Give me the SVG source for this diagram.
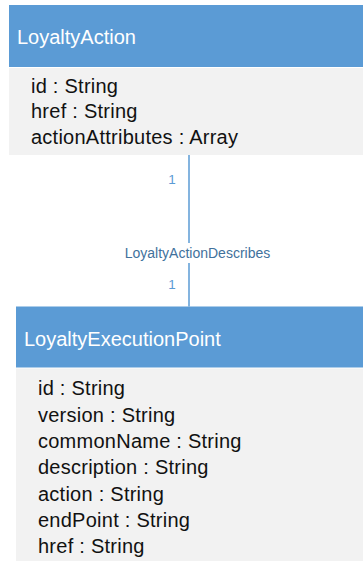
<svg xmlns="http://www.w3.org/2000/svg" width="363" height="561" viewBox="0 0 363 561">
  <style>
    .hdr { fill: #5B9BD5; }
    .body { fill: #F2F2F2; }
    .title { font-family: "Liberation Sans", Arial, sans-serif; font-size: 20px; fill: #FFFFFF; }
    .attr { font-family: "Liberation Sans", Arial, sans-serif; font-size: 20px; letter-spacing: 0.25px; fill: #111111; }
    .conn { stroke: #5B9BD5; stroke-width: 1.5; fill: none; }
    .mult { font-family: "Liberation Sans", Arial, sans-serif; font-size: 13.5px; fill: #5B9BD5; }
    .lbl { font-family: "Liberation Sans", Arial, sans-serif; font-size: 14px; fill: #41719C; }
  </style>
  <rect width="363" height="561" fill="#FFFFFF"/>
  <g id="LoyaltyAction">
    <rect class="hdr" x="9" y="5" width="354" height="62"/>
    <rect class="body" x="9" y="68" width="354" height="87"/>
    <text class="title" x="17" y="44">LoyaltyAction</text>
    <text class="attr" x="31" y="92.5">id : String</text>
    <text class="attr" x="31" y="118">href : String</text>
    <text class="attr" x="31" y="144">actionAttributes : Array</text>
  </g>
  <g id="LoyaltyExecutionPoint">
    <rect class="hdr" x="16" y="306.5" width="347" height="61"/>
    <rect class="body" x="16" y="368.5" width="347" height="192.5"/>
    <text class="title" x="24" y="346">LoyaltyExecutionPoint</text>
    <text class="attr" x="38" y="395">id : String</text>
    <text class="attr" x="38" y="421.5">version : String</text>
    <text class="attr" x="38" y="447.5">commonName : String</text>
    <text class="attr" x="38" y="474">description : String</text>
    <text class="attr" x="38" y="500.5">action : String</text>
    <text class="attr" x="38" y="527">endPoint : String</text>
    <text class="attr" x="38" y="553">href : String</text>
  </g>
  <g id="connectors">
    <line class="conn" x1="189" y1="155" x2="189" y2="243"/>
    <line class="conn" x1="189" y1="263" x2="189" y2="306.5"/>
    <text class="lbl" x="197.5" y="258" text-anchor="middle">LoyaltyActionDescribes</text>
    <text class="mult" x="172" y="184" text-anchor="middle">1</text>
    <text class="mult" x="172" y="289" text-anchor="middle">1</text>
  </g>
</svg>
